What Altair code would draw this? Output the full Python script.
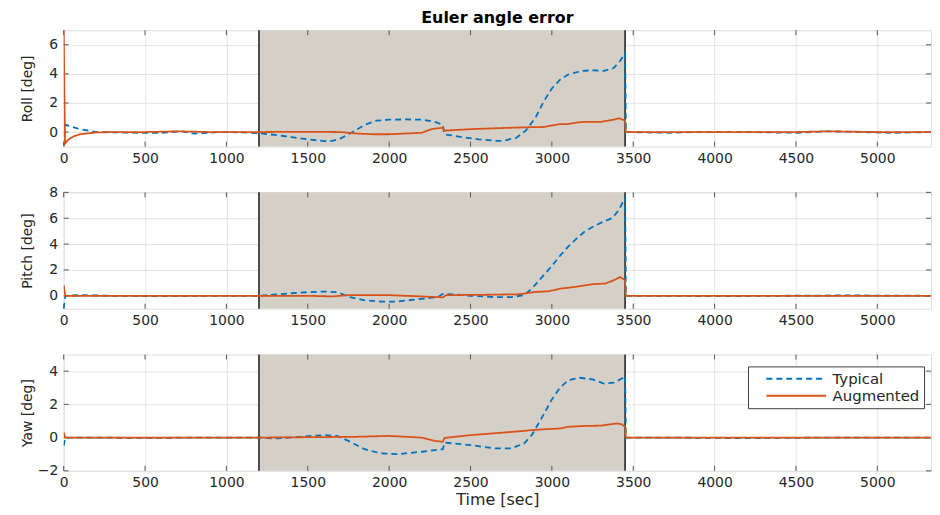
import altair as alt
import pandas as pd

# ---------------- data ----------------
X_TICKS = list(range(0, 5001, 500))
X_DOMAIN = [0, 5330]
SHADE_START = [1200]
SHADE_END = [3450]
SERIES = ["Typical", "Augmented"]
COLORS = ["#0072BD", "#D95319"]

ROLL_TYP_T = [0, 10, 40, 100, 200, 350, 500, 600, 720, 800, 850, 950, 1100, 1200, 1300,
              1400, 1500, 1600, 1650, 1700, 1760, 1850, 1920, 2000, 2100, 2200, 2280, 2330,
              2340, 2450, 2550, 2650, 2700, 2780, 2840, 2900, 2950, 3000, 3050, 3100, 3180,
              3250, 3320, 3380, 3420, 3450, 3455, 3550, 3700, 3900, 4200, 4500, 4700, 4900,
              5100, 5330]
ROLL_TYP_V = [-1.0, 0.5, 0.4, 0.2, 0.0, -0.03, -0.06, -0.05, 0.05, -0.1, -0.08, 0.0, -0.02,
              -0.08, -0.2, -0.35, -0.5, -0.62, -0.6, -0.45, -0.1, 0.5, 0.78, 0.85, 0.87, 0.85,
              0.7, 0.5, -0.15, -0.35, -0.5, -0.6, -0.6, -0.4, 0.1, 1.0, 2.1, 3.0, 3.6, 3.95,
              4.2, 4.25, 4.2, 4.4, 4.9, 5.4, 0.0, -0.02, -0.05, 0.0, 0.0, -0.05, 0.05, 0.0,
              -0.05, 0.0]
ROLL_AUG_T = [0, 8, 30, 60, 100, 200, 300, 500, 700, 900, 1200, 1500, 1700, 1800, 1900, 2000,
              2100, 2200, 2260, 2330, 2336, 2500, 2700, 2850, 2950, 3000, 3050, 3100, 3150,
              3200, 3300, 3380, 3410, 3450, 3455, 3700, 4000, 4500, 4700, 5000, 5330]
ROLL_AUG_V = [7.0, -0.8, -0.5, -0.3, -0.15, -0.03, 0.0, 0.0, 0.05, 0.0, 0.0, 0.02, 0.0, -0.1,
              -0.15, -0.15, -0.1, -0.05, 0.2, 0.3, 0.1, 0.2, 0.28, 0.33, 0.35, 0.45, 0.55, 0.55,
              0.65, 0.7, 0.7, 0.85, 0.95, 0.8, 0.0, 0.0, 0.0, 0.0, 0.05, 0.0, 0.0]

PITCH_TYP_T = [0, 10, 100, 300, 600, 900, 1200, 1300, 1450, 1600, 1680, 1760, 1850, 1950, 2050,
               2150, 2300, 2330, 2400, 2500, 2650, 2750, 2830, 2880, 2950, 3000, 3050, 3100,
               3150, 3200, 3260, 3320, 3370, 3410, 3450, 3455, 3700, 4000, 4400, 4800, 5330]
PITCH_TYP_V = [-1.0, 0.0, 0.05, 0.0, -0.03, 0.0, 0.0, 0.1, 0.25, 0.33, 0.28, -0.1, -0.35, -0.45,
               -0.45, -0.3, -0.1, 0.15, 0.1, 0.0, -0.1, -0.1, 0.05, 0.6, 1.6, 2.3, 3.1, 3.8, 4.4,
               4.95, 5.4, 5.75, 6.0, 6.6, 7.6, 0.0, 0.0, -0.03, 0.0, 0.03, 0.0]
PITCH_AUG_T = [0, 10, 300, 800, 1200, 1500, 1650, 1750, 2000, 2200, 2330, 2350, 2600, 2800,
               2900, 2980, 3050, 3150, 3250, 3330, 3380, 3420, 3450, 3455, 3800, 4500, 5330]
PITCH_AUG_V = [0.8, 0.0, 0.0, 0.0, 0.0, 0.0, -0.05, 0.05, 0.05, -0.05, -0.12, 0.05, 0.08, 0.12,
               0.3, 0.35, 0.55, 0.7, 0.9, 0.95, 1.2, 1.45, 1.2, 0.0, 0.0, 0.0, 0.0]

YAW_TYP_T = [0, 10, 200, 500, 800, 1200, 1300, 1450, 1600, 1680, 1750, 1850, 1950, 2050, 2200,
             2330, 2340, 2500, 2650, 2750, 2830, 2880, 2950, 3000, 3050, 3100, 3170, 3250, 3320,
             3380, 3430, 3450, 3455, 3700, 4200, 4700, 5330]
YAW_TYP_V = [-0.5, 0.0, 0.0, -0.02, 0.0, 0.0, -0.05, 0.05, 0.15, 0.1, -0.2, -0.7, -0.95, -1.0,
             -0.85, -0.7, -0.3, -0.45, -0.65, -0.65, -0.35, 0.2, 1.4, 2.3, 3.0, 3.45, 3.6, 3.5,
             3.25, 3.3, 3.55, 3.7, 0.0, 0.0, -0.03, 0.0, 0.0]
YAW_AUG_T = [0, 10, 500, 1200, 1800, 2000, 2200, 2280, 2330, 2340, 2500, 2700, 2880, 2950, 3050,
             3100, 3200, 3300, 3400, 3430, 3450, 3455, 4000, 5330]
YAW_AUG_V = [0.3, 0.0, 0.0, 0.0, 0.05, 0.1, 0.0, -0.2, -0.25, -0.02, 0.15, 0.3, 0.45, 0.5, 0.55,
             0.65, 0.7, 0.72, 0.85, 0.8, 0.65, 0.0, 0.0, 0.0]

PANELS = [
    ("Roll [deg]", [-1, 7], [0, 2, 4, 6], ROLL_TYP_T, ROLL_TYP_V, ROLL_AUG_T, ROLL_AUG_V),
    ("Pitch [deg]", [-1, 8], [0, 2, 4, 6, 8], PITCH_TYP_T, PITCH_TYP_V, PITCH_AUG_T, PITCH_AUG_V),
    ("Yaw [deg]", [-2, 5], [-2, 0, 2, 4], YAW_TYP_T, YAW_TYP_V, YAW_AUG_T, YAW_AUG_V),
]

# ---------------- styling ----------------
FONT = "DejaVu Sans"
W, H = 872, 117
TXT = "#262626"
TL = 5  # inward tick length (MATLAB style)

color_scale = alt.Scale(domain=SERIES, range=COLORS)
dash_scale = alt.Scale(domain=SERIES, range=[[6, 4], [1, 0]])
shade_df = pd.DataFrame({"start": SHADE_START, "end": SHADE_END})
edge_df = pd.DataFrame({"t": SHADE_START + SHADE_END})
xtick_df = pd.DataFrame({"tick": X_TICKS})


def make_panel(idx, ytitle, ydom, yticks, tt, tv, at, av):
    assert len(tt) == len(tv) and len(at) == len(av)
    last = idx == len(PANELS) - 1
    xaxis = alt.Axis(values=X_TICKS, format="d", title="Time [sec]" if last else None,
                     grid=True, gridColor="#e2e2e2", ticks=False, domain=False,
                     labelFont=FONT, labelFontSize=14, labelColor=TXT, labelPadding=5,
                     titleFont=FONT, titleFontSize=16, titleFontWeight="normal",
                     titleColor=TXT, titlePadding=2, labelFlush=False)
    yaxis = alt.Axis(values=yticks, format="d", title=ytitle, grid=True, gridColor="#e2e2e2",
                     ticks=False, domain=False, labelFont=FONT, labelFontSize=14,
                     labelColor=TXT, labelPadding=6, titleFont=FONT, titleFontSize=14,
                     titleFontWeight="normal", titleColor=TXT, titlePadding=1,
                     minExtent=28, maxExtent=28)
    xs = alt.Scale(domain=X_DOMAIN, nice=False, zero=False)
    ys = alt.Scale(domain=ydom, nice=False, zero=False)

    if last:
        leg = alt.Legend(title=None, orient="none", legendX=688, legendY=12,
                         direction="vertical", fillColor="white", strokeColor="#404040",
                         padding=4, rowPadding=0, symbolType="M0,0H8", symbolSize=225,
                         symbolStrokeWidth=2, symbolOffset=6, labelOffset=58,
                         labelFont=FONT, labelFontSize=15, labelColor=TXT)
    else:
        leg = None

    shade = alt.Chart(shade_df).mark_rect(color="#d4d0c8").encode(
        x=alt.X("start:Q", scale=xs, axis=xaxis), x2="end:Q")

    ytick_df = pd.DataFrame({"ytick": yticks})
    tick_style = dict(color="#555555", strokeWidth=1)
    xt_bot = alt.Chart(xtick_df).mark_rule(**tick_style).encode(
        x=alt.X("tick:Q", scale=xs, axis=xaxis), y=alt.value(H - TL), y2=alt.value(H))
    xt_top = alt.Chart(xtick_df).mark_rule(**tick_style).encode(
        x=alt.X("tick:Q", scale=xs, axis=xaxis), y=alt.value(0), y2=alt.value(TL))
    yt_left = alt.Chart(ytick_df).mark_rule(**tick_style).encode(
        y=alt.Y("ytick:Q", scale=ys, axis=yaxis), x=alt.value(0), x2=alt.value(TL))
    yt_right = alt.Chart(ytick_df).mark_rule(**tick_style).encode(
        y=alt.Y("ytick:Q", scale=ys, axis=yaxis), x=alt.value(W - TL), x2=alt.value(W))

    edges = alt.Chart(edge_df).mark_rule(color="#3c3c3c", strokeWidth=1.8).encode(
        x=alt.X("t:Q", scale=xs, axis=xaxis))

    def series_line(t, v, name):
        df = pd.DataFrame({"t": t, "v": v, "series": name})
        return alt.Chart(df).mark_line(strokeWidth=1.8, clip=True).encode(
            x=alt.X("t:Q", scale=xs, axis=xaxis),
            y=alt.Y("v:Q", scale=ys, axis=yaxis),
            color=alt.Color("series:N", scale=color_scale, legend=leg),
            strokeDash=alt.StrokeDash("series:N", scale=dash_scale, legend=leg),
        )

    layer = alt.layer(shade, xt_bot, xt_top, yt_left, yt_right, edges,
                      series_line(tt, tv, SERIES[0]), series_line(at, av, SERIES[1]))
    props = dict(width=W, height=H)
    if idx == 0:
        props["title"] = alt.TitleParams("Euler angle error", font=FONT, fontSize=16,
                                         fontWeight="bold", anchor="middle", frame="group",
                                         offset=3, color="#000000")
    return layer.properties(**props)


panels = [make_panel(i, *p) for i, p in enumerate(PANELS)]

chart = alt.vconcat(*panels, spacing=46, bounds="flush").resolve_legend(
    color="independent", strokeDash="independent"
).properties(
    padding={"left": 12, "top": 0, "right": 0, "bottom": 0}
).configure_view(
    stroke="#555555", strokeWidth=1
).configure(background="white")

chart.save("out.html", embed_options={"renderer": "svg", "actions": False})
